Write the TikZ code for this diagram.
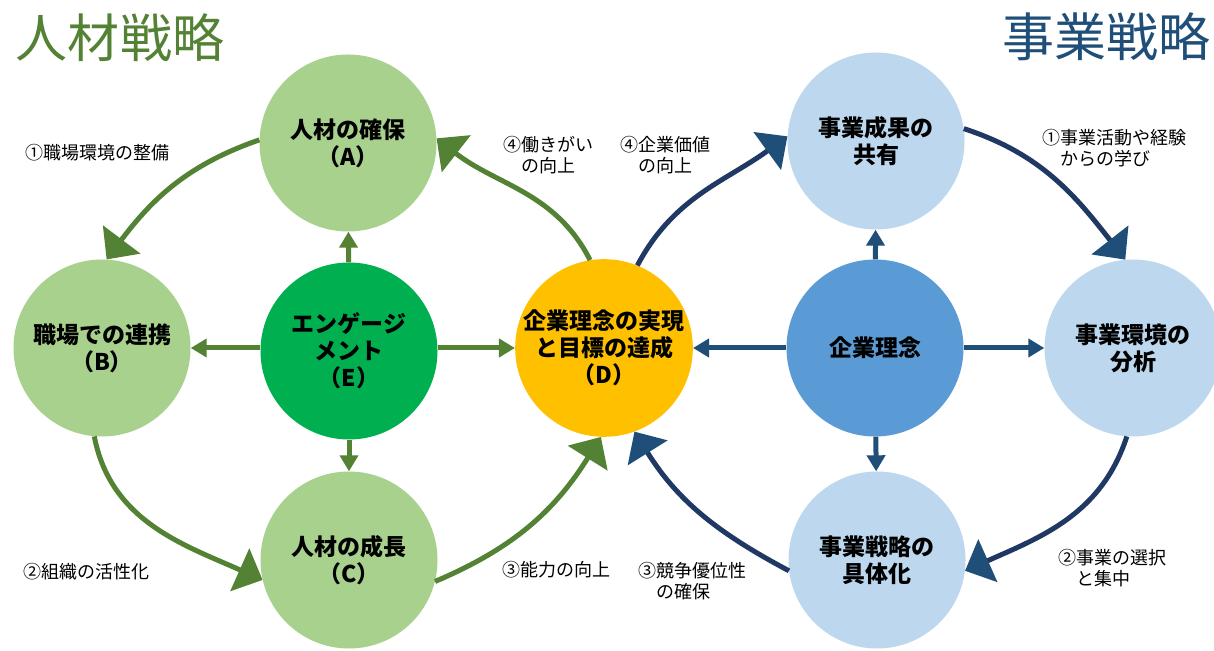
\documentclass[tikz,border=0pt]{standalone}
\usepackage{fontspec}
\setmainfont{Noto Sans CJK JP}
\usetikzlibrary{arrows.meta}
\definecolor{gdark}{HTML}{548235}
\definecolor{glight}{HTML}{A9D18E}
\definecolor{gmid}{HTML}{00B050}
\definecolor{dgold}{HTML}{FFC000}
\definecolor{blight}{HTML}{BDD7EE}
\definecolor{bmid}{HTML}{5B9BD5}
\definecolor{bdark}{HTML}{1F4E79}
\definecolor{bnavy}{HTML}{203864}
\begin{document}
\begin{tikzpicture}[x=1pt,y=1pt,
  circ/.style={circle,minimum size=177pt,inner sep=0pt,align=center,font=\bfseries\fontsize{23}{27}\selectfont},
  lab/.style={anchor=west,inner sep=0pt,align=left,font=\fontsize{18}{21}\selectfont},
  gcurve/.style={draw=gdark,line width=5pt,-{Triangle[length=25pt,width=46pt]}},
  bcurve/.style={draw=bnavy,line width=5pt,-{Triangle[length=25pt,width=46pt,color=bdark]}},
  gline/.style={draw=gdark,line width=5pt,-{Triangle[length=16pt,width=18pt]}},
  bline/.style={draw=bdark,line width=5pt,-{Triangle[length=16pt,width=18pt]}},
  title/.style={inner sep=0pt,font=\fontsize{52}{60}\selectfont}
]
\useasboundingbox (0,0) rectangle (1214,650);
\fill[white] (0,0) rectangle (1214,650);
% titles
\node[title,text=gdark] (T1) at (120,612) {人材戦略};
\node[title,text=bdark] (T2) at (1106,613) {事業戦略};
% left circles
\node[circ,fill=glight] (A) at (348,507) {人材の確保\\（A）};
\node[circ,fill=glight] (B) at (102,302) {職場での連携\\（B）};
\node[circ,fill=gmid] (E) at (349,299) {エンゲージ\\メント\\（E）};
\node[circ,fill=glight] (C) at (349,90) {人材の成長\\（C）};
\node[circ,fill=dgold] (D) at (604,302) {企業理念の実現\\と目標の達成\\（D）};
% right circles
\node[circ,fill=blight] (R1) at (876,509) {事業成果の\\共有};
\node[circ,fill=bmid] (R0) at (875,302) {企業理念};
\node[circ,fill=blight] (R2) at (1133,302) {事業環境の\\分析};
\node[circ,fill=blight] (R3) at (877,90) {事業戦略の\\具体化};
% straight arrows
\draw[gline] (E) -- (A);
\draw[gline] ([yshift=3pt]E.west) -- (B);
\draw[gline] (E) -- (C);
\draw[gline] ([yshift=3pt]E.east) -- (D);
\draw[bline] (R0) -- (R1);
\draw[bline] (R0) -- (R2);
\draw[bline] (R0) -- (R3);
\draw[bline] (R0) -- (D);
% curved arrows left
\draw[gcurve] (A.178) to[out=199,in=53] (B.87);
\draw[gcurve] (B.265) to[out=281,in=156] (C.193);
\draw[gcurve] (C.346) to[out=23,in=238] (D.268);
\draw[gcurve] (D.99) to[out=117,in=322] (A.3);
% curved arrows right
\draw[bcurve] (D.68) to[out=62,in=216] (R1.177);
\draw[bcurve] (R1.8) to[out=-18,in=128] (R2.95);
\draw[bcurve] (R2.266) to[out=252,in=24] (R3.353);
\draw[bcurve] (R3.187) to[out=152,in=302] (D.290);
% labels
\node[lab] (l1) at (25,497) {①職場環境の整備};
\node[lab] (l4a) at (503,495) {④働きがい\\　の向上};
\node[lab] (l4b) at (620,495) {④企業価値\\　の向上};
\node[lab] (r1) at (1042,502) {①事業活動や経験\\　からの学び};
\node[lab] (l2) at (23,78) {②組織の活性化};
\node[lab] (l3) at (502,80) {③能力の向上};
\node[lab] (r3) at (638,69) {③競争優位性\\　の確保};
\node[lab] (r2) at (1058,82) {②事業の選択\\　と集中};
\end{tikzpicture}
\end{document}
